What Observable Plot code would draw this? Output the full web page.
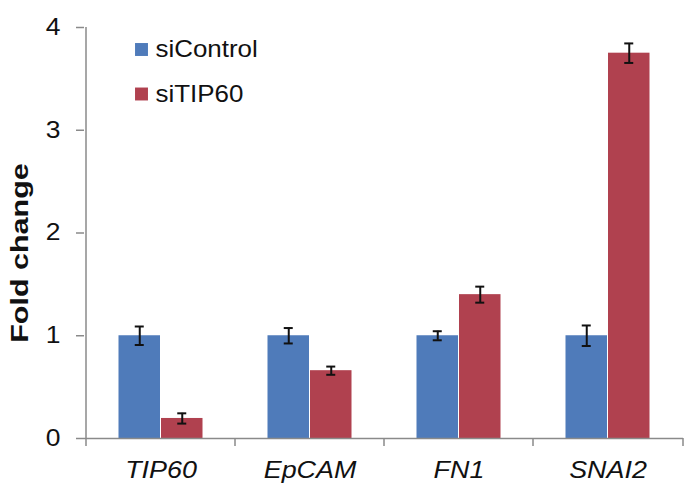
<!DOCTYPE html>
<html>
<head>
<meta charset="utf-8">
<script src="https://cdn.jsdelivr.net/npm/d3@7"></script>
<script src="https://cdn.jsdelivr.net/npm/@observablehq/plot@0.6"></script>
<style>
  html, body { margin: 0; padding: 0; background: #fff; }
</style>
</head>
<body>
<div id="chart"></div>
<script>
const genes = ["TIP60", "EpCAM", "FN1", "SNAI2"];
const groups = ["siControl", "siTIP60"];
const controlMean = [1.0, 1.0, 1.0, 1.0];
const controlErr = [0.09, 0.075, 0.044, 0.10];
const tip60Mean = [0.195, 0.66, 1.40, 3.75];
const tip60Err = [0.05, 0.04, 0.078, 0.095];
const yTicks = [0, 1, 2, 3, 4];
const colors = ["#4f7bba", "#b0414f"];
const yLabel = "Fold change";

const means = [controlMean, tip60Mean];
const errs = [controlErr, tip60Err];
const series = groups.map((g, j) =>
  genes.map((gene, i) => ({gene, group: g, v: means[j][i], e: errs[j][i]}))
);

const half = 75;      // half band width (px)
const barW = 42.5;
const offs = [-barW / 2, barW / 2];
const capHalf = 5;
const tickLen = 8 / 102.75;

const marks = [];
series.forEach((data, j) => {
  marks.push(Plot.barY(data, {
    x: "gene", y: "v", fill: colors[j],
    insetLeft: j === 0 ? half - barW : half,
    insetRight: j === 0 ? half : half - barW
  }));
});
series.forEach((data, j) => {
  const off = offs[j];
  marks.push(Plot.ruleX(data, {x: "gene", y1: d => d.v - d.e, y2: d => d.v + d.e, dx: off, stroke: "#111", strokeWidth: 2}));
  for (const sign of [-1, 1]) {
    marks.push(Plot.tickY(data, {
      x: "gene", y: d => d.v + sign * d.e, stroke: "#111", strokeWidth: 2,
      insetLeft: half + off - capHalf, insetRight: half - off - capHalf
    }));
  }
});

// axes
const axisColor = "#8a8a8a";
marks.push(Plot.ruleY([0], {stroke: axisColor, strokeWidth: 1.5}));
marks.push(Plot.ruleX([genes[0]], {x: d => d, dx: -half, y1: -tickLen, y2: 4, stroke: axisColor, strokeWidth: 1.5}));
marks.push(Plot.ruleX(genes.slice(1), {x: d => d, dx: -half, y1: -tickLen, y2: 0, stroke: axisColor, strokeWidth: 1.5}));
marks.push(Plot.ruleX([genes[genes.length - 1]], {x: d => d, dx: half, y1: -tickLen, y2: 0, stroke: axisColor, strokeWidth: 1.5}));
marks.push(Plot.axisY({ticks: yTicks, tickSize: 8, tickPadding: 16, fontSize: 23, stroke: axisColor, strokeWidth: 1.5, fill: "#111", label: null, tickFormat: d3.format("d")}));
marks.push(Plot.axisX({tickSize: 0, tickPadding: 22, fontSize: 24, fontStyle: "italic", fill: "#111", label: null}));
marks.push(Plot.text([yLabel], {frameAnchor: "left", textAnchor: "middle", lineAnchor: "middle", rotate: -90, dx: -64, dy: 20, fontWeight: "bold", fontSize: 24, fill: "#111"}));

// legend
groups.forEach((g, i) => {
  const dy = 22 + 44.5 * i;
  marks.push(Plot.dot([g], {frameAnchor: "top-left", dx: 57, dy, symbol: "square", r: 7.3, fill: colors[i], stroke: null}));
  marks.push(Plot.text([g], {frameAnchor: "top-left", dx: 71, dy, text: d => d, textAnchor: "start", lineAnchor: "middle", fontSize: 24, fill: "#111"}));
});

const chart = Plot.plot({
  width: 700,
  height: 493,
  marginTop: 27,
  marginRight: 17,
  marginBottom: 55,
  marginLeft: 84,
  style: {fontFamily: "'Liberation Sans', Arial, sans-serif", background: "#fff"},
  x: {domain: genes, padding: 0, axis: null},
  y: {domain: [0, 4], axis: null},
  marks
});
document.getElementById("chart").appendChild(chart);

// widen glyphs slightly to match the reference's text proportions
function stretch(nodes, factor) {
  nodes.forEach(node => {
    const L = node.getComputedTextLength();
    node.setAttribute("textLength", L * factor);
    node.setAttribute("lengthAdjust", "spacingAndGlyphs");
  });
}
const root = d3.select(chart);
stretch(root.selectAll('g[aria-label="y-axis tick label"] text').nodes(), 1.15);
stretch(root.selectAll('g[aria-label="x-axis tick label"] text').nodes(), 1.12);
root.selectAll('g[aria-label="text"] text').each(function() {
  stretch([this], this.textContent === yLabel ? 1.27 : 1.08);
});
</script>
</body>
</html>
